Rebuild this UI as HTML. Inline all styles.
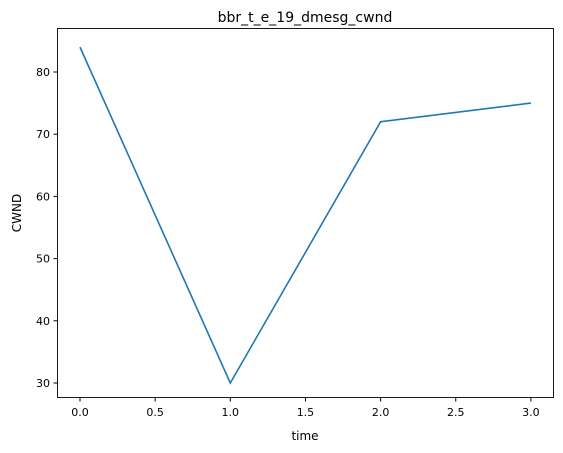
<!DOCTYPE html>
<html><head><meta charset="utf-8">
<style>
body{margin:0;background:#fff;}
svg{display:block;font-family:"DejaVu Sans","Liberation Sans",sans-serif;}
</style></head>
<body>
<svg id="chart" width="563" height="453" viewBox="0 0 563 453">
<rect x="0" y="0" width="563" height="453" fill="#fff"/>
<text x="305" y="22" font-size="14" text-anchor="middle">bbr_t_e_19_dmesg_cwnd</text>
<g id="xticks"></g>
<g id="yticks"></g>
<path id="line" fill="none" stroke="#1f77b4" stroke-width="1.6"/>
<rect x="57.5" y="28.5" width="496" height="369" fill="none" stroke="#000" stroke-width="0.9"/>
<text x="305" y="440" font-size="12" text-anchor="middle">time</text>
<text x="21" y="213" font-size="12" text-anchor="middle" transform="rotate(-90 21 213)">CWND</text>
</svg>
<script>
const xValues=[0,1,2,3];
const cwndValues=[84,30,72,75];
const xTickValues=[0,0.5,1,1.5,2,2.5,3];
const xTickLabels=["0.0","0.5","1.0","1.5","2.0","2.5","3.0"];
const yTickValues=[30,40,50,60,70,80];
const yTickLabels=["30","40","50","60","70","80"];
const NS="http://www.w3.org/2000/svg";
function sx(v){return 80+v*150.3;}
function sy(v){return 383-(v-30)*6.22;}
const xg=document.getElementById('xticks'),yg=document.getElementById('yticks');
xTickValues.forEach((v,i)=>{
 const l=document.createElementNS(NS,'line');
 l.setAttribute('x1',sx(v));l.setAttribute('x2',sx(v));l.setAttribute('y1',398);l.setAttribute('y2',401.5);l.setAttribute('stroke','#000');
 
 
 xg.appendChild(l);
 const t=document.createElementNS(NS,'text');
 t.setAttribute('x',sx(v));t.setAttribute('y',416);t.setAttribute('font-size','11');t.setAttribute('text-anchor','middle');
 t.textContent=xTickLabels[i];
 
 
 xg.appendChild(t);
});
yTickValues.forEach((v,i)=>{
 const l=document.createElementNS(NS,'line');
 l.setAttribute('x1',53.5);l.setAttribute('x2',57);l.setAttribute('y1',sy(v));l.setAttribute('y2',sy(v));l.setAttribute('stroke','#000');
 
 
 yg.appendChild(l);
 const t=document.createElementNS(NS,'text');
 t.setAttribute('x',50);t.setAttribute('y',sy(v)+4);t.setAttribute('font-size','11');t.setAttribute('text-anchor','end');
 t.textContent=yTickLabels[i];
 
 
 yg.appendChild(t);
});
document.getElementById('line').setAttribute('d',xValues.map((x,i)=>(i?'L':'M')+sx(x)+','+sy(cwndValues[i])).join(' '));
</script>
</body></html>
